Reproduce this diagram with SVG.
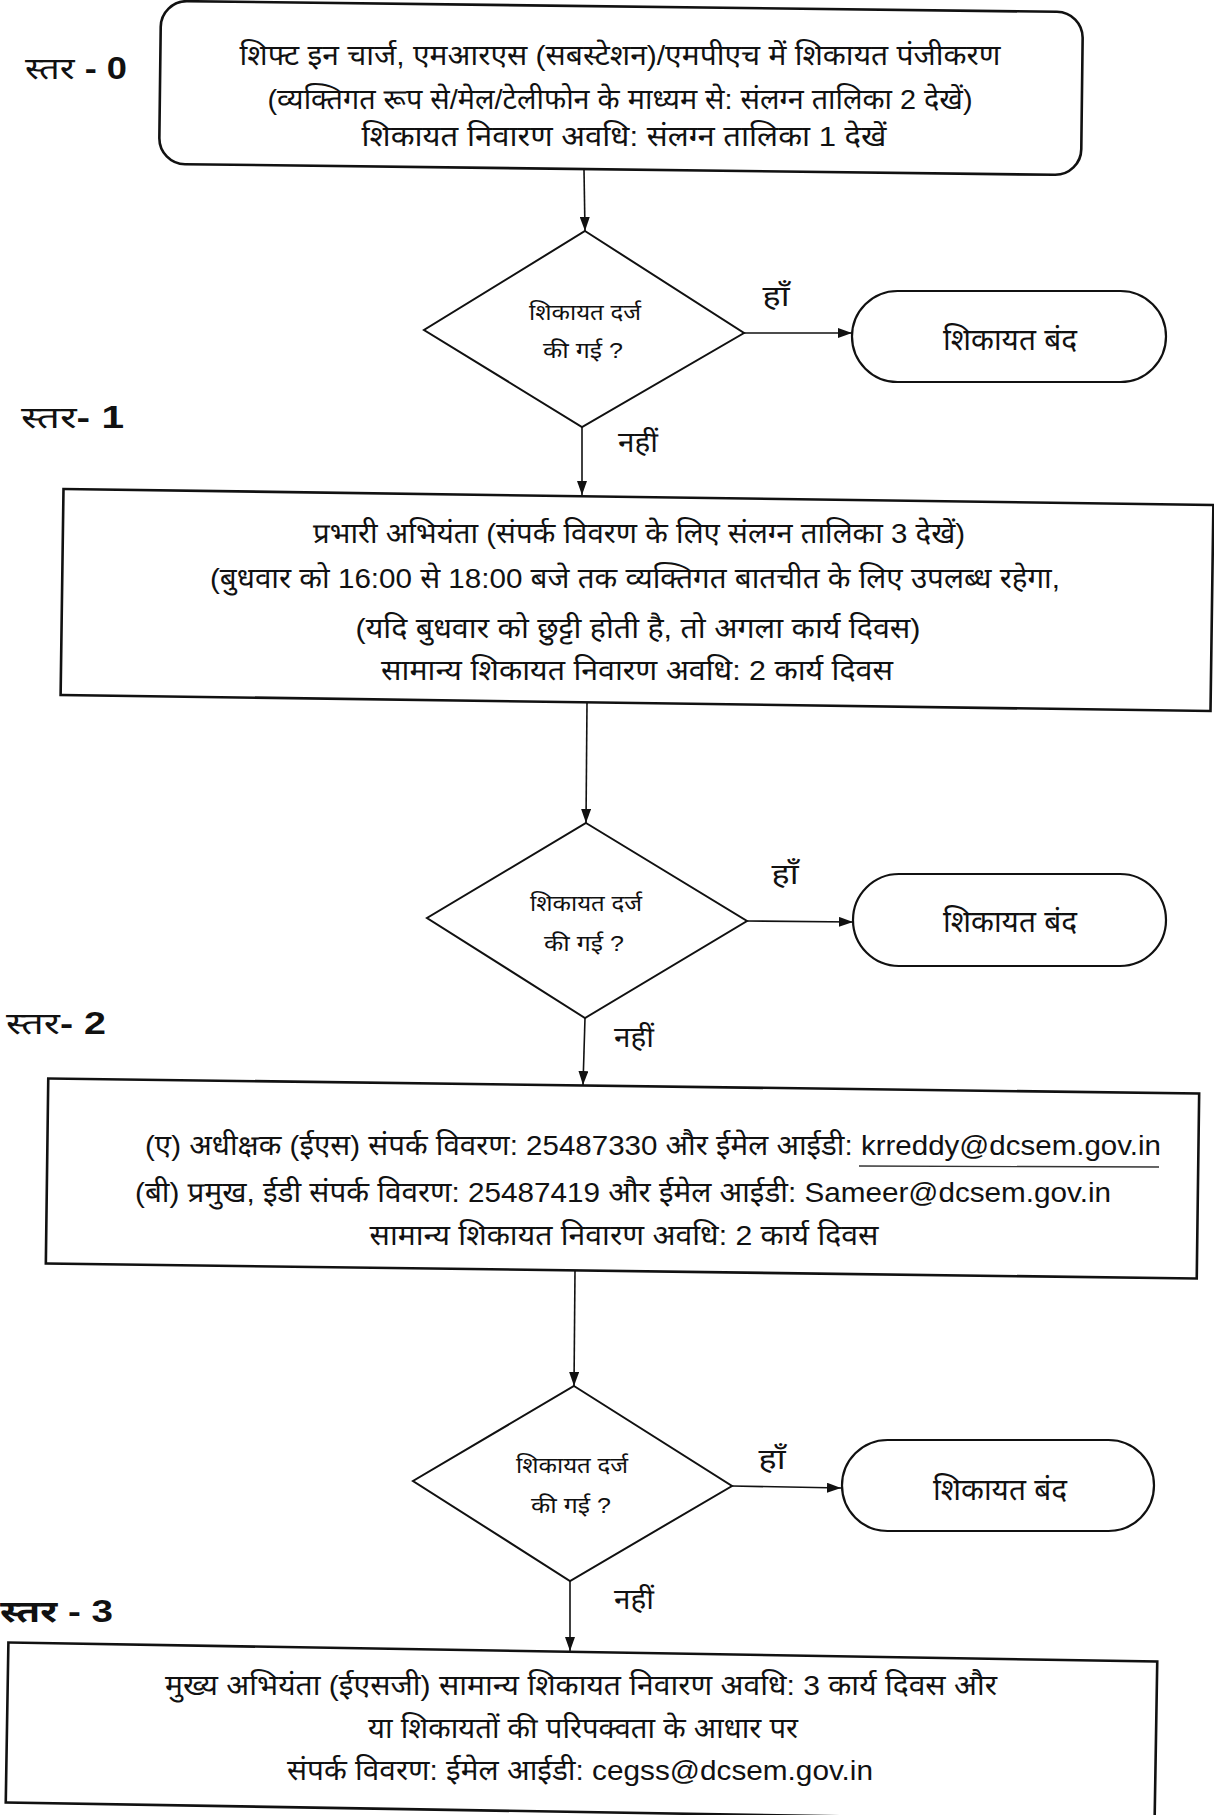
<svg xmlns="http://www.w3.org/2000/svg" width="1214" height="1815" viewBox="0 0 1214 1815">
<defs>
<style>
.bg{fill:#ffffff}
.box{fill:none;stroke:#111;stroke-width:2.6}
.dia{fill:none;stroke:#111;stroke-width:2}
.term{fill:none;stroke:#111;stroke-width:2.2}
.con{fill:none;stroke:#111;stroke-width:1.6}
text{font-family:"Liberation Sans","Noto Sans Devanagari","Lohit Devanagari","FreeSans",sans-serif;fill:#111}
.t{font-size:28px;text-anchor:middle}
.s{font-size:22px;text-anchor:middle}
.m{font-size:30px;text-anchor:middle}
.lbl{font-size:28px;text-anchor:middle}
.lvl{font-size:31px}
.b{font-weight:bold}
</style>
<marker id="arr" markerUnits="userSpaceOnUse" markerWidth="14" markerHeight="10" refX="14" refY="5" orient="auto">
<path d="M0,0 L14,5 L0,10 z" fill="#111"/>
</marker>
</defs>
<rect class="bg" x="0" y="0" width="1214" height="1815"/>

<g id="levels">
<text class="lvl" x="25" y="79" textLength="102" lengthAdjust="spacingAndGlyphs">स्तर<tspan class="b"> - 0</tspan></text>
<text class="lvl" x="21" y="428" textLength="103" lengthAdjust="spacingAndGlyphs">स्तर<tspan class="b">- 1</tspan></text>
<text class="lvl" x="6" y="1034" textLength="100" lengthAdjust="spacingAndGlyphs">स्तर<tspan class="b">- 2</tspan></text>
<text class="lvl b" x="0" y="1622" textLength="113" lengthAdjust="spacingAndGlyphs">स्तर - 3</text>
</g>

<g id="connectors">
<line class="con" x1="584" y1="170" x2="585" y2="231" marker-end="url(#arr)"/>
<line class="con" x1="744" y1="333" x2="852" y2="333" marker-end="url(#arr)"/>
<line class="con" x1="582" y1="427" x2="582" y2="495" marker-end="url(#arr)"/>
<line class="con" x1="587" y1="703" x2="586" y2="823" marker-end="url(#arr)"/>
<line class="con" x1="747" y1="921" x2="853" y2="922" marker-end="url(#arr)"/>
<line class="con" x1="585" y1="1018" x2="583" y2="1085" marker-end="url(#arr)"/>
<line class="con" x1="575" y1="1271" x2="574" y2="1386" marker-end="url(#arr)"/>
<line class="con" x1="732" y1="1486" x2="841" y2="1488" marker-end="url(#arr)"/>
<line class="con" x1="570" y1="1581" x2="570" y2="1651" marker-end="url(#arr)"/>
<text class="lbl" x="776" y="306" textLength="27" lengthAdjust="spacingAndGlyphs">हाँ</text>
<text class="lbl" x="638" y="452" textLength="40" lengthAdjust="spacingAndGlyphs">नहीं</text>
<text class="lbl" x="785" y="884" textLength="27" lengthAdjust="spacingAndGlyphs">हाँ</text>
<text class="lbl" x="634" y="1047" textLength="40" lengthAdjust="spacingAndGlyphs">नहीं</text>
<text class="lbl" x="772" y="1469" textLength="27" lengthAdjust="spacingAndGlyphs">हाँ</text>
<text class="lbl" x="634" y="1609" textLength="40" lengthAdjust="spacingAndGlyphs">नहीं</text>
</g>

<g id="n0">
<rect class="box" x="160" y="6.5" width="922" height="163" rx="26" transform="rotate(0.7 621 88)"/>
<text class="t" x="620" y="65" textLength="761" lengthAdjust="spacingAndGlyphs">शिफ्ट इन चार्ज, एमआरएस (सबस्टेशन)/एमपीएच में शिकायत पंजीकरण</text>
<text class="t" x="620" y="109" textLength="705" lengthAdjust="spacingAndGlyphs">(व्यक्तिगत रूप से/मेल/टेलीफोन के माध्यम से: संलग्न तालिका 2 देखें)</text>
<text class="t" x="624" y="146" textLength="525" lengthAdjust="spacingAndGlyphs">शिकायत निवारण अवधि: संलग्न तालिका 1 देखें</text>
</g>

<g id="d1">
<polygon class="dia" points="585,231 744,333 582,427 424,330"/>
<text class="s" x="585" y="320" textLength="112" lengthAdjust="spacingAndGlyphs">शिकायत दर्ज</text>
<text class="s" x="583" y="358" textLength="80" lengthAdjust="spacingAndGlyphs">की गई ?</text>
</g>

<g id="t1">
<rect class="term" x="852" y="291" width="314" height="91" rx="45.5"/>
<text class="m" x="1010" y="350" textLength="134" lengthAdjust="spacingAndGlyphs">शिकायत बंद</text>
</g>

<g id="n1">
<rect class="box" x="62" y="497" width="1150" height="206" transform="rotate(0.8 637 600)"/>
<text class="t" x="639" y="543" textLength="652" lengthAdjust="spacingAndGlyphs">प्रभारी अभियंता (संपर्क विवरण के लिए संलग्न तालिका 3 देखें)</text>
<text class="t" x="635" y="588" textLength="850" lengthAdjust="spacingAndGlyphs">(बुधवार को 16:00 से 18:00 बजे तक व्यक्तिगत बातचीत के लिए उपलब्ध रहेगा,</text>
<text class="t" x="638" y="638" textLength="565" lengthAdjust="spacingAndGlyphs">(यदि बुधवार को छुट्टी होती है, तो अगला कार्य दिवस)</text>
<text class="t" x="637" y="680" textLength="512" lengthAdjust="spacingAndGlyphs">सामान्य शिकायत निवारण अवधि: 2 कार्य दिवस</text>
</g>

<g id="d2">
<polygon class="dia" points="586,823 747,921 585,1018 427,918"/>
<text class="s" x="586" y="911" textLength="112" lengthAdjust="spacingAndGlyphs">शिकायत दर्ज</text>
<text class="s" x="584" y="951" textLength="80" lengthAdjust="spacingAndGlyphs">की गई ?</text>
</g>

<g id="t2">
<rect class="term" x="853" y="874" width="313" height="92" rx="46"/>
<text class="m" x="1010" y="932" textLength="134" lengthAdjust="spacingAndGlyphs">शिकायत बंद</text>
</g>

<g id="n2">
<rect class="box" x="47" y="1086" width="1151" height="185" transform="rotate(0.75 622 1178.5)"/>
<text class="t" x="653" y="1155" textLength="1016" lengthAdjust="spacingAndGlyphs">(ए) अधीक्षक (ईएस) संपर्क विवरण: 25487330 और ईमेल आईडी: krreddy@dcsem.gov.in</text>
<line x1="859" y1="1166" x2="1159" y2="1167" stroke="#333" stroke-width="1.3"/>
<text class="t" x="623" y="1202" textLength="976" lengthAdjust="spacingAndGlyphs">(बी) प्रमुख, ईडी संपर्क विवरण: 25487419 और ईमेल आईडी: Sameer@dcsem.gov.in</text>
<text class="t" x="624" y="1245" textLength="509" lengthAdjust="spacingAndGlyphs">सामान्य शिकायत निवारण अवधि: 2 कार्य दिवस</text>
</g>

<g id="d3">
<polygon class="dia" points="574,1386 732,1486 570,1581 413,1481"/>
<text class="s" x="572" y="1473" textLength="112" lengthAdjust="spacingAndGlyphs">शिकायत दर्ज</text>
<text class="s" x="571" y="1513" textLength="80" lengthAdjust="spacingAndGlyphs">की गई ?</text>
</g>

<g id="t3">
<rect class="term" x="842" y="1440" width="312" height="91" rx="45.5"/>
<text class="m" x="1000" y="1500" textLength="134" lengthAdjust="spacingAndGlyphs">शिकायत बंद</text>
</g>

<g id="n3">
<rect class="box" x="7" y="1652" width="1149" height="160" transform="rotate(0.95 581 1732)"/>
<text class="t" x="581" y="1695" textLength="832" lengthAdjust="spacingAndGlyphs">मुख्य अभियंता (ईएसजी) सामान्य शिकायत निवारण अवधि: 3 कार्य दिवस और</text>
<text class="t" x="583" y="1738" textLength="430" lengthAdjust="spacingAndGlyphs">या शिकायतों की परिपक्वता के आधार पर</text>
<text class="t" x="580" y="1780" textLength="586" lengthAdjust="spacingAndGlyphs">संपर्क विवरण: ईमेल आईडी: cegss@dcsem.gov.in</text>
</g>
</svg>
